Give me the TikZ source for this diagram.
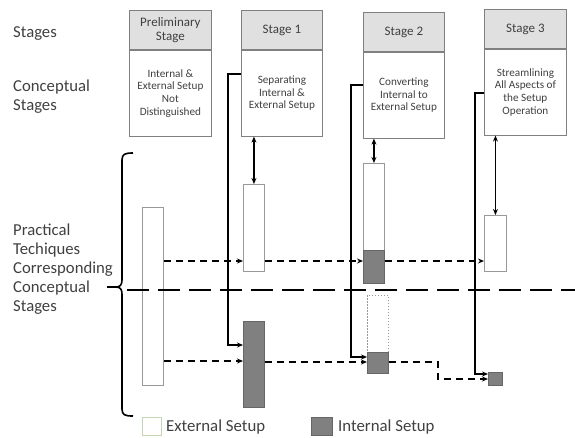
\documentclass[tikz,border=0pt]{standalone}
\usepackage{fontspec}
\setmainfont{Carlito}
\usetikzlibrary{arrows.meta}
\definecolor{txt}{RGB}{64,64,64}
\definecolor{legendgreen}{RGB}{196,214,180}
\begin{document}
\begin{tikzpicture}[x=1pt,y=-1pt,
  hdr/.style={draw=black!50, fill=black!12, line width=0.8pt, minimum width=82pt, minimum height=39pt, anchor=north west, inner sep=0pt, align=center, text=txt, font=\fontsize{13}{14.5}\selectfont},
  bodybox/.style={draw=black!50, fill=white, line width=0.8pt, minimum width=82pt, minimum height=86pt, anchor=north west, inner sep=0pt, align=center, text=txt, font=\fontsize{11.2}{12.6}\selectfont},
  extbar/.style={draw=black!40, fill=white, line width=0.9pt, anchor=north west, inner sep=0pt},
  intbar/.style={draw=black!60, fill=black!50, line width=0.9pt, anchor=north west, inner sep=0pt},
  dotbar/.style={draw=black!40, fill=white, line width=0.8pt, dash pattern=on 1.5pt off 1.5pt, anchor=north west, inner sep=0pt},
  lbl/.style={text=txt, align=left, inner sep=0pt, font=\fontsize{16.7}{19}\selectfont},
  conn/.style={line width=1.6pt, -{Stealth[length=6pt,width=5pt]}},
  dbl/.style={line width=1.6pt, {Stealth[length=6pt,width=5pt]}-{Stealth[length=6pt,width=5pt]}},
  dconn/.style={conn, dash pattern=on 7pt off 5pt},
]
\useasboundingbox (0,0) rectangle (575,437);

% left labels
\node[lbl, anchor=base west] (lstages) at (13,37) {Stages};
\node[lbl, anchor=west] (lconc) at (13,96.5) {Conceptual\\Stages};
\node[lbl, anchor=west] (lprac) at (13,269) {Practical\\Techiques\\Corresponding\\Conceptual\\Stages};

% stage boxes
\node[hdr] (p0h) at (129,10) {Preliminary\\Stage};
\node[bodybox] (p0b) at (p0h.south west) {Internal \&\\External Setup\\Not\\Distinguished};
\node[hdr, minimum width=81pt] (s1h) at (241,10) {Stage 1};
\node[bodybox, minimum width=81pt] (s1b) at (s1h.south west) {Separating\\Internal \&\\External Setup};
\node[hdr, minimum width=81pt] (s2h) at (363,12) {Stage 2};
\node[bodybox, minimum width=81pt] (s2b) at (s2h.south west) {Converting\\Internal to\\External Setup};
\node[hdr] (s3h) at (484,9) {Stage 3};
\node[bodybox] (s3b) at (s3h.south west) {Streamlining\\All Aspects of\\the Setup\\Operation};

% bars
\node[extbar, minimum width=21pt, minimum height=178pt] (r0) at (142,207) {};
\node[extbar, minimum width=21pt, minimum height=87pt] (r1a) at (243,184) {};
\node[intbar, minimum width=21pt, minimum height=86pt] (r1b) at (243,321) {};
\node[extbar, minimum width=21pt, minimum height=87pt] (r2a) at (363,163) {};
\node[intbar, minimum width=21pt, minimum height=33pt] (r2i) at (363,250) {};
\node[dotbar, minimum width=21pt, minimum height=57pt] (r2d) at (367,295) {};
\node[intbar, minimum width=21pt, minimum height=21pt] (r2b) at (367,352) {};
\node[extbar, minimum width=22pt, minimum height=56pt] (r3a) at (484,215) {};
\node[intbar, minimum width=14pt, minimum height=13pt] (r3b) at (488,372) {};

% brace
\draw[line width=1.6pt, line join=round] (133,153) .. controls (125,153) and (122,154) .. (122,160) -- (122,280)
  .. controls (122,285) and (120,287) .. (116,287) -- (107,287)
  (116,287) .. controls (120,287) and (122,289) .. (122,294) -- (122,409)
  .. controls (122,415) and (125,416) .. (133,416);

% long dashed divider
\coordinate (divs) at (127,290);
\coordinate (dive) at (575,290);
\draw[line width=2.6pt, dash pattern=on 22pt off 9pt] (divs) -- (dive);

% double arrows
\draw[dbl] (r1a.north |- s1b.south) -- (r1a.north);
\draw[dbl] (r2a.north |- s2b.south) -- (r2a.north);
\draw[dbl] (r3a.north |- s3b.south) -- (r3a.north);

% L connectors
\draw[conn] (s1b.west |- 0,74) -- ++(-13,0) |- (r1b.west |- 0,345);
\draw[conn] (s2b.west |- 0,85) -- ++(-12,0) |- (r2b.west |- 0,357);
\draw[conn] (s3b.west |- 0,93) -- ++(-9,0) |- (r3b.west |- 0,374);

% dashed connectors upper
\draw[dconn] (r0.east |- 0,261) -- (r1a.west |- 0,261);
\draw[dconn] (r1a.east |- 0,261) -- (r2i.west |- 0,261);
\draw[dconn] (r2i.east |- 0,261) -- (r3a.west |- 0,261);
% dashed connectors lower
\draw[dconn] (r0.east |- 0,361) -- (r1b.west |- 0,361);
\draw[dconn] (r1b.east |- 0,362) -- (r2b.west |- 0,362);
\draw[dconn] (r2b.east |- 0,362) -- (438,362) |- (r3b.west |- 0,379);

% legend
\node[draw=legendgreen, fill=white, line width=0.9pt, minimum width=19pt, minimum height=18pt, anchor=north west, inner sep=0pt] (legext) at (142,417) {};
\node[lbl, anchor=west, font=\fontsize{16.8}{19}\selectfont] (legexttxt) at (166,427) {External Setup};
\node[intbar, minimum width=21pt, minimum height=18pt] (legint) at (311,417) {};
\node[lbl, anchor=west, font=\fontsize{16.8}{19}\selectfont] (leginttxt) at (338,427) {Internal Setup};
\end{tikzpicture}
\end{document}
